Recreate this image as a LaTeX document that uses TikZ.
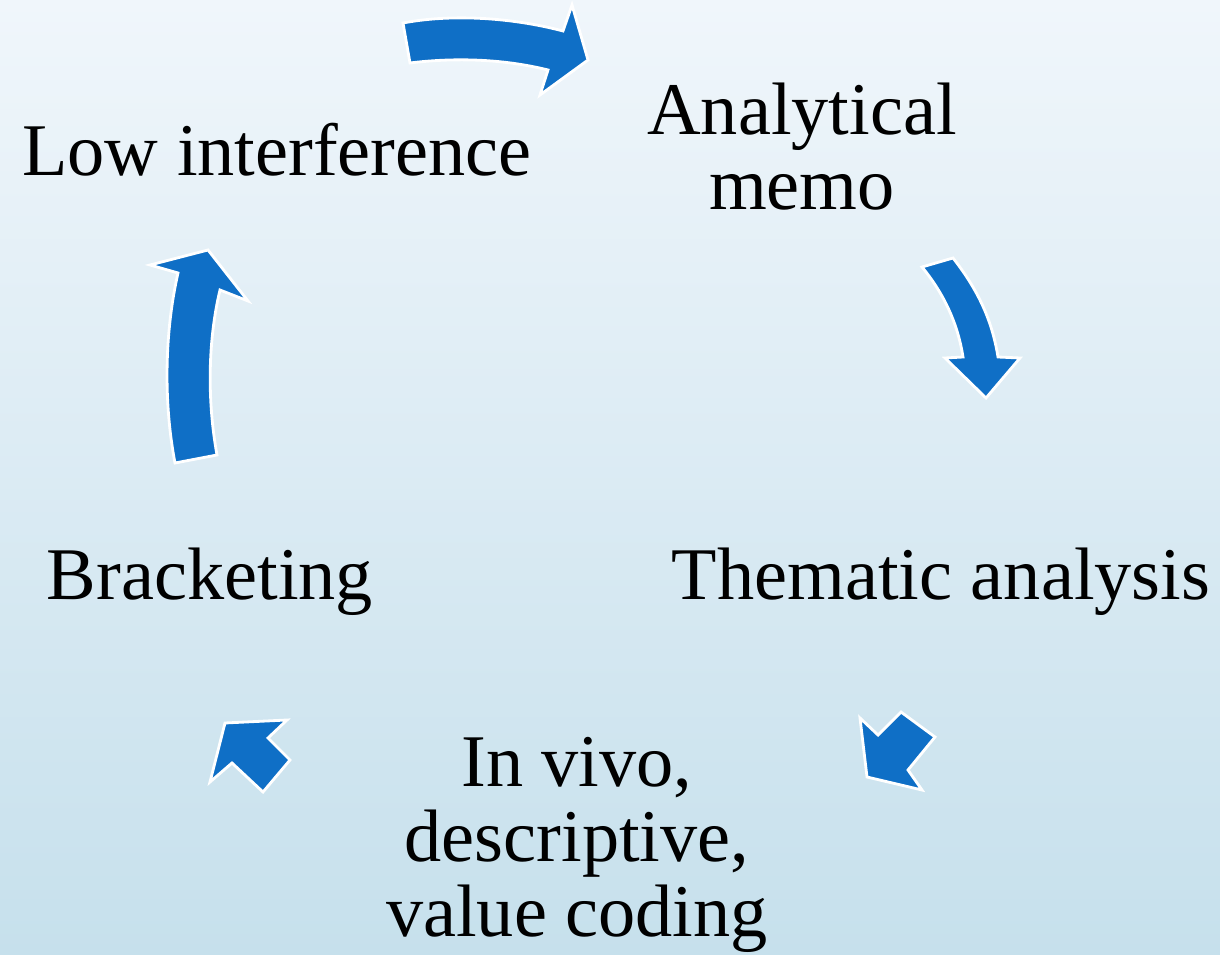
\documentclass[tikz,border=0pt]{standalone}
\usepackage{fontspec}
\setmainfont{Liberation Serif}
\definecolor{cycblue}{RGB}{15,111,198}
\definecolor{bgtop}{RGB}{240,246,251}
\definecolor{bgmid}{RGB}{228,239,246}
\definecolor{bgbot}{RGB}{198,224,236}

\begin{document}
\begin{tikzpicture}[x=0.02cm,y=-0.02cm,
      every node/.style={font=\fontsize{42.3}{42.7}\selectfont,inner sep=0pt,align=center},
      blk/.style={fill=cycblue,draw=white,line width=1.6pt,line join=miter}]
      \useasboundingbox (0,0) rectangle (1220,955);
      \shade[top color=bgtop,middle color=bgmid,bottom color=bgbot] (0,0) rectangle (1220,955);
      % labels round the cycle
      \node (memo) at (802,147) {Analytical\\memo};
      \node[anchor=base] (theme) at (941,600) {Thematic analysis};
      \node (code) at (577,845) {In vivo,\\descriptive,\\value coding};
      \node[anchor=base] (brack) at (210,600) {Bracketing};
      \node[anchor=base] (low) at (277,176) {Low interference};
      % block arrows
      \draw[blk] (403,23) .. controls (450,14) and (510,17) .. (563,31) -- (572,5) -- (588,60)
        -- (540,95) -- (548,70) .. controls (500,58) and (450,58) .. (410,63) -- cycle;
      \draw[blk] (953,258) .. controls (978,290) and (992,320) .. (998,357) -- (1020,358) -- (986,398)
        -- (945,358) -- (963,357) .. controls (958,325) and (945,295) .. (922,267) -- cycle;
      \draw[blk] (860,718) -- (878,735) -- (901,712) -- (935,737) -- (908,770) -- (922,790) -- (867,777) -- cycle;
      \draw[blk] (225,723) -- (287,720) -- (268,738) -- (290,760) -- (263,792) -- (232,763) -- (210,782) -- cycle;
      \draw[blk] (175,463) .. controls (163,400) and (165,330) .. (178,273) -- (150,265) -- (208,250)
        -- (248,301) -- (220,290) .. controls (208,340) and (207,400) .. (217,455) -- cycle;
    \end{tikzpicture}
\end{document}
